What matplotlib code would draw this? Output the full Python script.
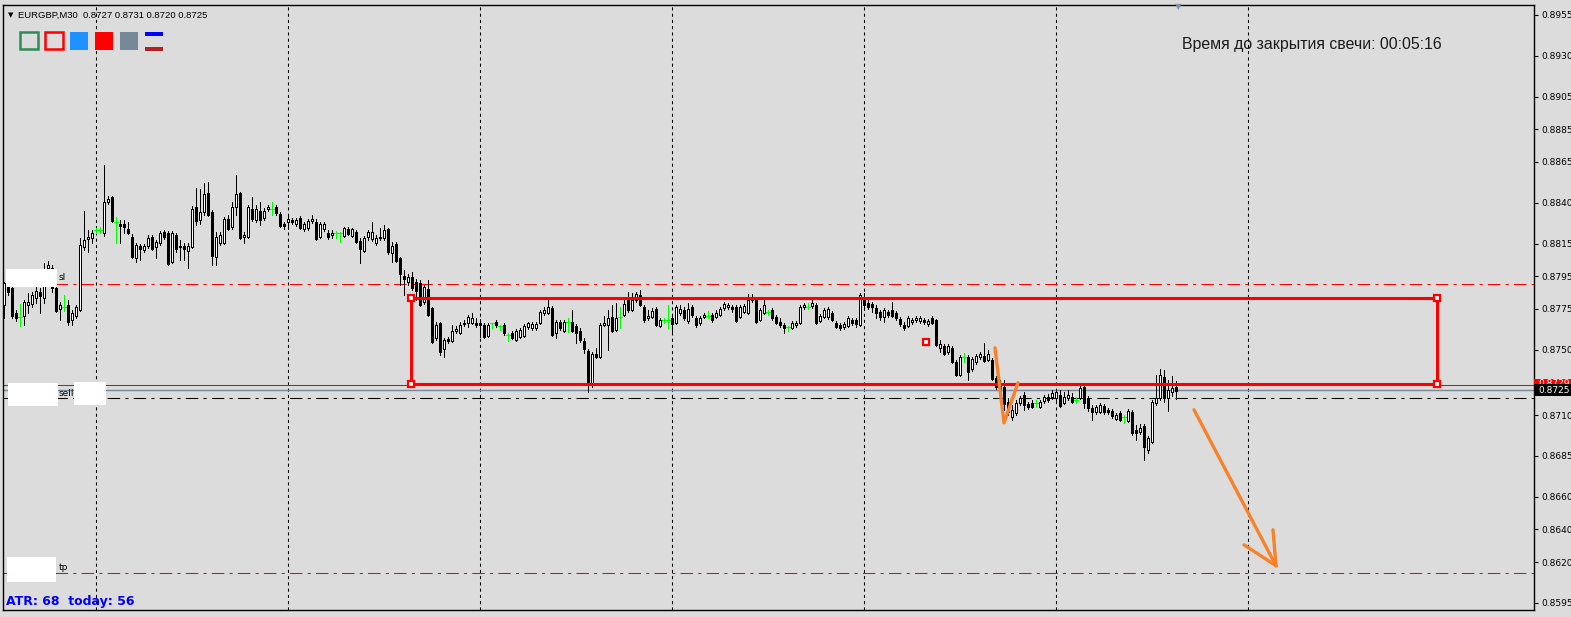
import matplotlib
matplotlib.use('Agg')
import matplotlib.pyplot as plt
from matplotlib.patches import Rectangle
import matplotlib.transforms as mtransforms

# ---------------- data ----------------
symbol_title = "EURGBP,M30  0.8727 0.8731 0.8720 0.8725"
timer_text = "Время до закрытия свечи: 00:05:16"
atr_text = "ATR: 68  today: 56"

O = [.87775,.87886,.87879,.87726,.87702,.87708,.87775,.87782,.87818,.87855,
     .87818,.88002,.88002,.87879,.87751,.87763,.87775,.87684,.87708,.87745,
     .88130,.88179,.88185,.88234,.88234,.88216,.88406,.88436,.88283,.88271,
     .88271,.88241,.88192,.88063,.88137,.88112,.88137,.88192,.88130,.88155,
     .88222,.88216,.88039,.88204,.88137,.88137,.88106,.88130,.88375,.88296,
     .88345,.88461,.88345,.88069,.88155,.88155,.88302,.88253,.88375,.88461,
     .88192,.88192,.88363,.88296,.88351,.88308,.88363,.88363,.88375,.88332,
     .88271,.88283,.88296,.88271,.88308,.88241,.88247,.88290,.88283,.88192,
     .88241,.88216,.88204,.88216,.88216,.88198,.88241,.88198,.88222,.88167,
     .88106,.88192,.88179,.88155,.88185,.88185,.88241,.88094,.88149,.88063,
     .87953,.87916,.87947,.87916,.87910,.87794,.87873,.87757,.87573,.87665,
     .87506,.87567,.87555,.87616,.87604,.87659,.87665,.87665,.87665,.87665,
     .87653,.87586,.87665,.87671,.87647,.87653,.87592,.87604,.87561,.87580,
     .87586,.87641,.87635,.87635,.87665,.87726,.87726,.87757,.87604,.87671,
     .87616,.87671,.87671,.87647,.87616,.87555,.87494,.87298,.87476,.87457,
     .87653,.87653,.87702,.87622,.87702,.87714,.87818,.87745,.87806,.87837,
     .87763,.87696,.87702,.87751,.87647,.87684,.87684,.87696,.87665,.87726,
     .87745,.87677,.87763,.87696,.87665,.87702,.87708,.87714,.87702,.87714,
     .87757,.87763,.87763,.87763,.87702,.87733,.87726,.87806,.87806,.87684,
     .87726,.87733,.87745,.87702,.87671,.87653,.87641,.87635,.87653,.87665,
     .87763,.87763,.87769,.87775,.87677,.87702,.87702,.87726,.87665,.87653,
     .87641,.87647,.87684,.87684,.87653,.87812,.87788,.87782,.87757,.87733,
     .87702,.87733,.87745,.87726,.87690,.87653,.87647,.87671,.87684,.87677,
     .87684,.87659,.87696,.87684,.87512,.87524,.87488,.87512,.87427,.87347,
     .87457,.87457,.87384,.87427,.87457,.87463,.87439,.87439,.87329,.87286,
     .87274,.87182,.87090,.87114,.87176,.87225,.87169,.87176,.87176,.87151,
     .87188,.87212,.87212,.87206,.87225,.87176,.87206,.87212,.87194,.87206,
     .87274,.87206,.87145,.87120,.87120,.87157,.87133,.87127,.87078,.87114,
     .87090,.87065,.87120,.87010,.86998,.87035,.86888,.86937,.87176,.87206,
     .87335,.87206,.87243,.87274]

Hi = [.87916,.87898,.87886,.87745,.87782,.87806,.87849,.87855,.87898,.87879,
      .88032,.88045,.88020,.87892,.87794,.87837,.87806,.87745,.87775,.88185,
      .88351,.88234,.88234,.88247,.88253,.88632,.88443,.88443,.88314,.88296,
      .88296,.88283,.88210,.88155,.88149,.88149,.88204,.88204,.88173,.88228,
      .88234,.88228,.88228,.88216,.88173,.88155,.88155,.88381,.88491,.88485,
      .88522,.88528,.88357,.88222,.88222,.88314,.88326,.88406,.88571,.88467,
      .88222,.88387,.88436,.88387,.88406,.88369,.88387,.88406,.88387,.88345,
      .88283,.88326,.88308,.88308,.88320,.88283,.88302,.88326,.88302,.88283,
      .88283,.88234,.88234,.88228,.88222,.88253,.88253,.88247,.88234,.88185,
      .88198,.88234,.88283,.88204,.88247,.88265,.88247,.88161,.88161,.88069,
      .87990,.87965,.87977,.87934,.87928,.87898,.87928,.87763,.87671,.87671,
      .87573,.87580,.87653,.87647,.87671,.87684,.87714,.87726,.87696,.87690,
      .87665,.87665,.87665,.87684,.87653,.87665,.87604,.87616,.87629,.87635,
      .87659,.87671,.87671,.87671,.87745,.87763,.87806,.87769,.87684,.87684,
      .87684,.87696,.87745,.87659,.87635,.87573,.87506,.87488,.87512,.87665,
      .87708,.87745,.87775,.87788,.87763,.87806,.87855,.87849,.87855,.87867,
      .87775,.87745,.87757,.87763,.87696,.87696,.87775,.87714,.87775,.87775,
      .87763,.87788,.87775,.87708,.87708,.87726,.87739,.87726,.87745,.87763,
      .87794,.87788,.87775,.87775,.87775,.87782,.87843,.87843,.87818,.87757,
      .87806,.87745,.87757,.87714,.87696,.87665,.87647,.87677,.87677,.87775,
      .87788,.87788,.87806,.87788,.87720,.87757,.87763,.87739,.87677,.87665,
      .87671,.87708,.87696,.87696,.87849,.87849,.87806,.87794,.87775,.87745,
      .87757,.87745,.87794,.87739,.87702,.87671,.87708,.87696,.87708,.87708,
      .87696,.87690,.87708,.87690,.87561,.87537,.87537,.87524,.87439,.87469,
      .87482,.87469,.87457,.87476,.87488,.87543,.87500,.87451,.87341,.87316,
      .87316,.87206,.87163,.87194,.87218,.87243,.87182,.87194,.87194,.87194,
      .87225,.87231,.87255,.87261,.87255,.87243,.87255,.87237,.87212,.87280,
      .87286,.87218,.87163,.87163,.87176,.87169,.87145,.87139,.87114,.87127,
      .87102,.87139,.87133,.87041,.87047,.87047,.86974,.87194,.87347,.87384,
      .87378,.87316,.87341,.87310]

Lo = [.87696,.87837,.87696,.87677,.87647,.87653,.87726,.87763,.87788,.87726,
      .87788,.87990,.87855,.87733,.87684,.87739,.87653,.87653,.87696,.87739,
      .88112,.88100,.88155,.88216,.88216,.88198,.88394,.88283,.88155,.88155,
      .88216,.88210,.88063,.88039,.88051,.88100,.88124,.88112,.88063,.88143,
      .88179,.88020,.88032,.88100,.88051,.88051,.88002,.88124,.88265,.88271,
      .88326,.88320,.88020,.88020,.88143,.88149,.88234,.88241,.88326,.88179,
      .88155,.88185,.88290,.88283,.88265,.88296,.88351,.88326,.88326,.88253,
      .88241,.88241,.88271,.88259,.88241,.88228,.88234,.88277,.88173,.88185,
      .88228,.88179,.88185,.88185,.88161,.88192,.88204,.88192,.88155,.88032,
      .88100,.88173,.88167,.88143,.88173,.88173,.88088,.88039,.88039,.87898,
      .87837,.87898,.87867,.87806,.87769,.87782,.87708,.87543,.87561,.87469,
      .87457,.87543,.87549,.87604,.87598,.87647,.87641,.87659,.87641,.87580,
      .87573,.87580,.87635,.87641,.87622,.87592,.87555,.87567,.87555,.87573,
      .87580,.87629,.87622,.87622,.87659,.87714,.87720,.87586,.87573,.87622,
      .87610,.87610,.87610,.87543,.87549,.87482,.87243,.87274,.87451,.87451,
      .87647,.87500,.87610,.87616,.87635,.87708,.87733,.87739,.87794,.87769,
      .87671,.87684,.87696,.87647,.87641,.87665,.87635,.87604,.87659,.87714,
      .87684,.87665,.87702,.87641,.87653,.87696,.87696,.87671,.87696,.87708,
      .87745,.87751,.87733,.87671,.87696,.87726,.87720,.87794,.87665,.87677,
      .87720,.87714,.87684,.87659,.87641,.87604,.87616,.87629,.87641,.87659,
      .87751,.87751,.87757,.87659,.87671,.87696,.87690,.87677,.87635,.87622,
      .87629,.87641,.87653,.87641,.87647,.87745,.87751,.87733,.87696,.87684,
      .87671,.87702,.87702,.87684,.87647,.87622,.87641,.87659,.87671,.87665,
      .87659,.87647,.87659,.87524,.87488,.87469,.87476,.87420,.87341,.87341,
      .87427,.87316,.87371,.87414,.87445,.87427,.87433,.87316,.87261,.87206,
      .87133,.87102,.87072,.87102,.87163,.87133,.87139,.87145,.87151,.87145,
      .87176,.87182,.87200,.87194,.87151,.87169,.87194,.87176,.87176,.87200,
      .87145,.87127,.87072,.87108,.87114,.87108,.87108,.87084,.87072,.87065,
      .87053,.87059,.86980,.86949,.86986,.86827,.86870,.86931,.87163,.87194,
      .87182,.87127,.87218,.87200]

C = [.87910,.87855,.87708,.87696,.87702,.87794,.87794,.87837,.87861,.87830,
     .87916,.88020,.87879,.87739,.87775,.87763,.87671,.87726,.87763,.88143,
     .88173,.88192,.88216,.88234,.88234,.88406,.88424,.88290,.88283,.88259,
     .88253,.88216,.88069,.88143,.88118,.88137,.88185,.88118,.88161,.88216,
     .88192,.88026,.88216,.88118,.88130,.88118,.88137,.88363,.88290,.88345,
     .88455,.88326,.88075,.88192,.88204,.88302,.88241,.88375,.88455,.88185,
     .88204,.88375,.88302,.88363,.88296,.88351,.88375,.88363,.88338,.88259,
     .88259,.88302,.88283,.88296,.88247,.88271,.88290,.88302,.88179,.88271,
     .88271,.88192,.88216,.88216,.88216,.88247,.88210,.88241,.88161,.88118,
     .88185,.88222,.88222,.88185,.88192,.88234,.88100,.88137,.88045,.87965,
     .87934,.87947,.87879,.87861,.87775,.87886,.87714,.87549,.87653,.87488,
     .87561,.87555,.87616,.87629,.87653,.87665,.87702,.87696,.87653,.87653,
     .87580,.87653,.87665,.87653,.87647,.87604,.87592,.87573,.87616,.87622,
     .87647,.87665,.87659,.87659,.87733,.87745,.87763,.87592,.87671,.87635,
     .87671,.87671,.87616,.87604,.87561,.87506,.87286,.87476,.87457,.87653,
     .87665,.87696,.87616,.87696,.87702,.87782,.87745,.87806,.87843,.87775,
     .87684,.87708,.87739,.87653,.87684,.87684,.87684,.87659,.87763,.87751,
     .87696,.87751,.87714,.87653,.87696,.87714,.87708,.87684,.87726,.87751,
     .87782,.87775,.87751,.87677,.87763,.87769,.87806,.87818,.87671,.87745,
     .87775,.87733,.87696,.87665,.87653,.87635,.87641,.87665,.87665,.87763,
     .87775,.87763,.87788,.87665,.87708,.87745,.87751,.87684,.87641,.87635,
     .87659,.87696,.87665,.87659,.87837,.87775,.87763,.87763,.87726,.87702,
     .87745,.87714,.87708,.87696,.87659,.87635,.87696,.87684,.87696,.87696,
     .87671,.87677,.87665,.87531,.87537,.87476,.87524,.87427,.87347,.87457,
     .87457,.87365,.87445,.87463,.87476,.87433,.87476,.87322,.87274,.87225,
     .87169,.87120,.87133,.87176,.87206,.87163,.87151,.87151,.87176,.87182,
     .87212,.87194,.87237,.87243,.87157,.87212,.87225,.87182,.87194,.87267,
     .87176,.87145,.87120,.87151,.87163,.87120,.87120,.87096,.87102,.87072,
     .87090,.87127,.86992,.86992,.87023,.86906,.86961,.87182,.87206,.87347,
     .87206,.87255,.87267,.87250]

# right-axis price labels
tick_prices = [0.8955, 0.8930, 0.8905, 0.8885, 0.8865, 0.8840, 0.8815, 0.8795,
               0.8775, 0.8750, 0.8710, 0.8685, 0.8660, 0.8640, 0.8620, 0.8595]
tick_labels = ["%.4f" % p for p in tick_prices]

# levels
sl_price = 0.87904
tp_price = 0.86135
sell_price = 0.87206
bid_price = 0.87252
red_line_price = 0.87286
last_label = "0.8725"
red_label = "0.8729"

# rectangle object (bar index / price)
rect_t0, rect_t1 = 101.75, 358.25
rect_p0, rect_p1 = 0.87292, 0.87818
point_t, point_p = 230.5, 0.87549

# vertical grid bars
grid_bars = [23, 71, 119, 167, 215, 263, 311]

# orange hand-drawn strokes (bar index, price)
v_t = [247.75, 250.0, 253.5]
v_p = [0.87512, 0.87053, 0.87298]
arrow_t = [297.5, 318.0]
arrow_p = [0.87133, 0.86178]
head1_t = [310.0, 318.0]
head1_p = [0.86306, 0.86178]
head2_t = [317.25, 318.0]
head2_p = [0.86398, 0.86178]

# ---------------- figure ----------------
W, HH = 1571, 617
BG = '#DCDCDC'
fig = plt.figure(figsize=(W / 100, HH / 100), dpi=100, facecolor=BG)

def fx(x):
    return x / W

def fy(y):
    return 1 - y / HH

ax = fig.add_axes([fx(3), fy(610), (1534 - 3) / W, (610 - 5) / HH])
ax.set_facecolor(BG)
ax.set_xlim(-0.25, 382.5)
ax.set_ylim(0.85907, 0.89611)
for s in ax.spines.values():
    s.set_color('black')
    s.set_linewidth(1.0)

# grid
for g in grid_bars:
    ax.axvline(g, color='black', lw=0.75, ls=(0, (3, 3)), zorder=1)

# horizontal levels
ax.axhline(sl_price, color='#FF0000', lw=0.75, ls=(0, (12, 5, 3, 5)), zorder=2)
ax.axhline(tp_price, color='#FF0000', lw=0.75, ls=(0, (12, 5, 3, 5)), zorder=2)
ax.axhline(sell_price, color='black', lw=0.75, ls=(0, (12, 5, 3, 5)), zorder=2)
ax.axhline(bid_price, color='#778899', lw=1.0, zorder=2)
ax.axhline(red_line_price, color='#FF0000', lw=0.75, zorder=2)

# candles
PXW = 0.72  # one pixel in points
n = len(C)
for k in range(n):
    o, h, l, c = O[k], Hi[k], Lo[k], C[k]
    top = max(h, o, c)
    bot = min(l, o, c)
    if abs(o - c) < 1e-9:
        ax.vlines(k, bot, top, color='#00FF00', lw=PXW, zorder=4, antialiased=False)
        ax.hlines(o, k - 0.4, k + 0.4, color='#00FF00', lw=PXW, zorder=4,
                  antialiased=False)
        continue
    ax.vlines(k, bot, top, color='black', lw=PXW, zorder=4, antialiased=False)
    if c > o:
        ax.add_patch(Rectangle((k - 0.25, o), 0.5, c - o, facecolor='white',
                               edgecolor='black', lw=PXW, zorder=5,
                               antialiased=False))
    else:
        ax.add_patch(Rectangle((k - 0.25, c), 0.5, o - c, facecolor='black',
                               edgecolor='black', lw=PXW, zorder=5,
                               antialiased=False))

# rectangle object
ax.add_patch(Rectangle((rect_t0, rect_p0), rect_t1 - rect_t0, rect_p1 - rect_p0,
                       fill=False, edgecolor='#FF0000', lw=2.2, zorder=6))
for (tt, pp) in [(rect_t0, rect_p0), (rect_t0, rect_p1), (rect_t1, rect_p0),
                 (rect_t1, rect_p1), (point_t, point_p)]:
    ax.plot([tt], [pp], marker='s', ms=5, mfc='white', mec='#FF0000', mew=1.6,
            zorder=7)

# orange strokes
oc = '#F7822A'
for tx, py in [(v_t, v_p), (arrow_t, arrow_p), (head1_t, head1_p), (head2_t, head2_p)]:
    ax.plot(tx, py, color=oc, lw=2.4, solid_capstyle='round', zorder=8)

# right axis
ax.yaxis.tick_right()
ax.set_yticks(tick_prices)
ax.set_yticklabels(tick_labels)
ax.tick_params(axis='y', length=3, width=0.8, pad=2, labelsize=6.5, colors='black')
ax.set_xticks([])

# price labels on axis
bt = mtransforms.blended_transform_factory(ax.transAxes, ax.transData)
lab_w = 37 / 1531
px_price = (0.89611 - 0.85907) / 605.0
ax.add_patch(Rectangle((1.0, red_line_price - 6 * px_price), lab_w, 12 * px_price,
                       transform=bt, facecolor='#FF0000', edgecolor='none',
                       clip_on=False, zorder=9))
ax.text(1.0 + 4 / 1531, red_line_price + 1 * px_price, red_label, transform=bt,
        color='white', fontsize=6.5, va='center', ha='left', clip_on=False, zorder=10)
ax.add_patch(Rectangle((1.0, bid_price - 6 * px_price), lab_w, 12 * px_price,
                       transform=bt, facecolor='black', edgecolor='none',
                       clip_on=False, zorder=11))
ax.text(1.0 + 4 / 1531, bid_price, last_label, transform=bt,
        color='white', fontsize=6.5, va='center', ha='left', clip_on=False, zorder=12)

# chart shift marker
fig.text(fx(1178), fy(7), '▼', color='#8090A0', fontsize=6, ha='center', va='center')

# title
fig.text(fx(8), fy(15), '▼', fontsize=5, ha='left', va='center', color='black')
fig.text(fx(18), fy(15), symbol_title, fontsize=6.8, family='Liberation Sans',
         ha='left', va='center', color='black')

# toolbar icons
def frect(x0, y0, x1, y1, **kw):
    fig.patches.append(Rectangle((fx(x0), fy(y1)), (x1 - x0) / W, (y1 - y0) / HH,
                                 transform=fig.transFigure, figure=fig, **kw))

frect(20, 32, 38, 49, facecolor='none', edgecolor='#2E8B57', lw=1.8)
frect(45, 32, 63, 49, facecolor='none', edgecolor='#FF0000', lw=1.8)
frect(70, 32, 88, 50, facecolor='#1E90FF', edgecolor='none')
frect(95, 32, 113, 50, facecolor='#FF0000', edgecolor='none')
frect(120, 32, 138, 50, facecolor='#778899', edgecolor='none')
frect(145, 32, 163, 36, facecolor='#0000FF', edgecolor='none')
frect(145, 47, 163, 51, facecolor='#B22222', edgecolor='none')

# timer text
fig.text(fx(1182), fy(45), timer_text, fontsize=11.4, family='Liberation Sans',
         ha='left', va='center', color='#1A1A1A')

# ATR text
fig.text(fx(6), fy(601), atr_text, fontsize=9, fontweight='bold',
         family='DejaVu Sans', ha='left', va='center', color='#0000FF')

# masked labels with their suffix texts
frect(6, 269, 57, 287, facecolor='white', edgecolor='none', zorder=20)
fig.text(fx(59), fy(278), 'sl', fontsize=6.5, ha='left', va='center', color='black')
frect(8, 383, 58, 406, facecolor='white', edgecolor='none', zorder=20)
frect(74, 382, 106, 405, facecolor='white', edgecolor='none', zorder=20)
fig.text(fx(59), fy(393), 'sell', fontsize=6.5, ha='left', va='center', color='black')
frect(7, 557, 56, 582, facecolor='white', edgecolor='none', zorder=20)
fig.text(fx(59), fy(567), 'tp', fontsize=6.5, ha='left', va='center', color='black')

fig.savefig('out.png', dpi=100, facecolor=BG)
